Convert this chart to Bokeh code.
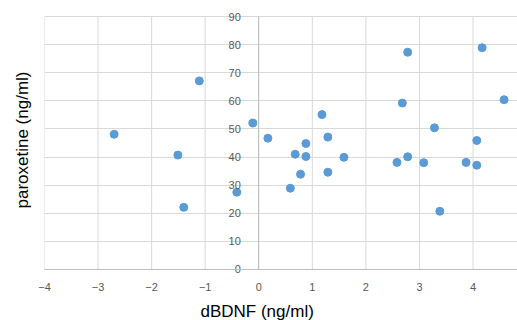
from bokeh.plotting import figure
from bokeh.models import (LinearAxis, FixedTicker, Title, Range1d, ColumnDataSource, Grid, Span)
from bokeh.embed import file_html
from bokeh.resources import INLINE

# data
dbdnf = [-2.70, -1.11, -1.51, -1.40, -0.41, -0.11, 0.17,
         1.18, 1.29, 0.88, 0.68, 0.88, 1.59, 0.78, 1.29, 0.59,
         2.78, 4.17, 2.68, 4.58, 3.28, 4.07, 2.58, 2.78, 3.08, 3.87, 4.07, 3.38]
paroxetine = [48.1, 67.1, 40.7, 22.1, 27.5, 52.1, 46.7,
              55.1, 47.1, 44.8, 41.0, 40.2, 39.9, 33.9, 34.6, 28.9,
              77.3, 78.9, 59.2, 60.4, 50.4, 45.9, 38.1, 40.1, 38.0, 38.1, 37.1, 20.7]
x_ticks = [-4, -3, -2, -1, 0, 1, 2, 3, 4]
y_ticks = [0, 10, 20, 30, 40, 50, 60, 70, 80, 90]
y_cross = 0  # the vertical axis crosses the horizontal one at x = 0
x_title = "dBDNF (ng/ml)"
y_title = "paroxetine (ng/ml)"

FONT = "Liberation Sans"
GRID = "#D9D9D9"
AXIS = "#BFBFBF"
LABEL = "#595959"
PAD = 2.5  # small invisible margin so the 0 and 90 labels are not clipped

y_lo, y_hi = y_ticks[0], y_ticks[-1]

p = figure(width=517, height=320, output_backend="svg", toolbar_location=None,
           x_range=Range1d(-4, 4.83), y_range=Range1d(y_lo - PAD, y_hi + PAD),
           min_border_left=44, min_border_right=0, min_border_top=9, min_border_bottom=0,
           y_axis_location=None)
p.outline_line_color = None
p.background_fill_color = "white"
p.border_fill_color = "white"
p.xgrid.visible = False

# x axis (bottom): labels only, line drawn at y = 0 below
xa = p.xaxis[0]
xa.ticker = FixedTicker(ticks=x_ticks)
xa.axis_line_color = None
xa.major_tick_line_color = None
xa.minor_tick_line_color = None
xa.major_label_text_color = LABEL
xa.major_label_text_font = FONT
xa.major_label_text_font_size = "11px"
xa.major_label_standoff = 0
xa.axis_label = " "
xa.axis_label_text_font_size = "11px"
xa.axis_label_standoff = -9

# horizontal gridlines
p.add_layout(Grid(dimension=1, ticker=FixedTicker(ticks=y_ticks), grid_line_color=GRID))
# vertical gridlines between 0 and 90
vsrc = ColumnDataSource(data=dict(x=x_ticks, y0=[y_lo] * len(x_ticks), y1=[y_hi] * len(x_ticks)))
p.segment(x0="x", y0="y0", x1="x", y1="y1", source=vsrc, line_color=GRID, line_width=1)
# horizontal axis line at y = 0
p.add_layout(Span(location=y_lo, dimension="width", line_color=AXIS, line_width=1))

# y axis crossing at x = 0
ya = LinearAxis(fixed_location=y_cross, ticker=FixedTicker(ticks=y_ticks), bounds=(y_lo, y_hi))
ya.axis_line_color = AXIS
ya.major_tick_line_color = None
ya.minor_tick_line_color = None
ya.major_label_text_color = LABEL
ya.major_label_text_font = FONT
ya.major_label_text_font_size = "11px"
ya.major_label_standoff = 12
p.add_layout(ya, "left")

p.add_layout(Title(text=y_title, align="left", offset=61 + 7, vertical_align="top",
                   text_font=FONT, text_font_size="17px",
                   text_font_style="normal", text_color="black", standoff=22), "left")
p.add_layout(Title(text=x_title, align="left", offset=156, vertical_align="bottom",
                   text_font=FONT, text_font_size="17px",
                   text_font_style="normal", text_color="black", standoff=0), "below")

src = ColumnDataSource(data=dict(x=dbdnf, y=paroxetine))
p.scatter("x", "y", source=src, size=8, fill_color="#5B9BD5", line_color="#5B9BD5")

open("out.html", "w").write(file_html(p, INLINE))
